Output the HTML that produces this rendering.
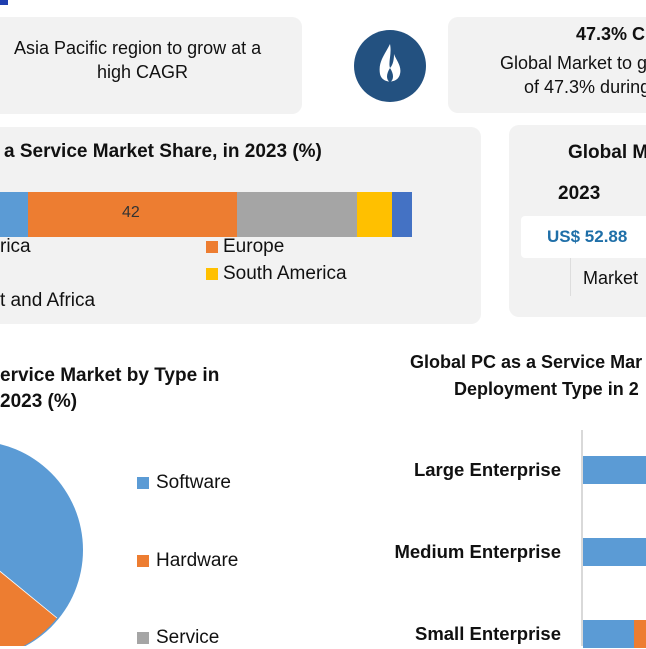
<!DOCTYPE html>
<html><head><meta charset="utf-8"><style>
body{margin:0;width:646px;height:646px;overflow:hidden;background:#fff;font-family:"Liberation Sans",sans-serif;color:#111;position:relative}
.a{position:absolute;white-space:nowrap}
.box{position:absolute;background:#f2f2f2;border-radius:10px}
.b{font-weight:bold}
.t{font-size:18px}
.sq{position:absolute;width:12px;height:12px}
</style></head><body>
<div class="a" style="left:0;top:0;width:8px;height:5px;background:#1f3fb0"></div>
<div class="box" style="left:-20px;top:17px;width:322px;height:97px"></div>
<div class="a t" style="left:14px;top:38px">Asia Pacific region to grow at a</div>
<div class="a t" style="left:97px;top:62px">high CAGR</div>
<svg class="a" style="left:344px;top:30px" width="92" height="74"><circle cx="46" cy="36" r="36" fill="#235180"/>
<path d="M46 14 C40 26 34 32 36 44 C38 54 54 54 56 44 C58 36 52 30 50 24 C50 32 48 36 46 38 C44 32 48 24 46 14Z" fill="#fff"/><path d="M46 38 C42 44 42 50 46 52 C50 50 50 44 46 38Z" fill="#235180"/></svg>
<div class="box" style="left:448px;top:17px;width:220px;height:96px"></div>
<div class="a t b" style="left:576px;top:24px">47.3% C</div>
<div class="a t" style="left:500px;top:53px">Global Market to g</div>
<div class="a t" style="left:524px;top:77px">of 47.3% during</div>
<div class="box" style="left:-20px;top:127px;width:501px;height:197px"></div>
<div class="a b" style="left:4px;top:141px;font-size:19px">a Service Market Share, in 2023 (%)</div>
<div class="a" style="left:0;top:192px;width:28px;height:45px;background:#5b9bd5"></div>
<div class="a" style="left:28px;top:192px;width:209px;height:45px;background:#ed7d31"></div>
<div class="a" style="left:237px;top:192px;width:120px;height:45px;background:#a5a5a5"></div>
<div class="a" style="left:357px;top:192px;width:35px;height:45px;background:#ffc000"></div>
<div class="a" style="left:392px;top:192px;width:20px;height:45px;background:#4472c4"></div>
<div class="a" style="left:122px;top:204px;font-size:16px;color:#333">42</div>
<div class="a" style="left:0;top:236px;font-size:19px">rica</div>
<div class="sq" style="left:206px;top:241px;background:#ed7d31"></div>
<div class="a" style="left:223px;top:236px;font-size:19px">Europe</div>
<div class="sq" style="left:206px;top:268px;background:#ffc000"></div>
<div class="a" style="left:223px;top:263px;font-size:19px">South America</div>
<div class="a" style="left:0;top:290px;font-size:19px">t and Africa</div>
<div class="box" style="left:509px;top:125px;width:160px;height:192px"></div>
<div class="a b" style="left:568px;top:142px;font-size:19px">Global M</div>
<div class="a b" style="left:558px;top:183px;font-size:19px">2023</div>
<div class="a" style="left:521px;top:216px;width:130px;height:42px;background:#fff;border-radius:4px"></div>
<div class="a b" style="left:547px;top:227px;font-size:17px;color:#1f6fa8">US$ 52.88</div>
<div class="a" style="left:570px;top:258px;width:1px;height:38px;background:#ddd"></div>
<div class="a" style="left:583px;top:268px;font-size:18px">Market</div>
<div class="a b" style="left:0;top:365px;font-size:19px">ervice Market by Type in</div>
<div class="a b" style="left:0;top:391px;font-size:19px">2023 (%)</div>
<svg class="a" style="left:0;top:430px" width="120" height="216">
<circle cx="-26" cy="120" r="109" fill="#5b9bd5"/>
<path d="M-26 120 L57 188 A109 109 0 0 1 -26 229 Z" fill="#ed7d31"/>
<line x1="-26" y1="120" x2="57" y2="188" stroke="#fff" stroke-width="0.8"/></svg>
<div class="sq" style="left:137px;top:477px;background:#5b9bd5"></div>
<div class="a" style="left:156px;top:472px;font-size:19px">Software</div>
<div class="sq" style="left:137px;top:555px;background:#ed7d31"></div>
<div class="a" style="left:156px;top:550px;font-size:19px">Hardware</div>
<div class="sq" style="left:137px;top:632px;background:#a5a5a5"></div>
<div class="a" style="left:156px;top:627px;font-size:19px">Service</div>
<div class="a b" style="left:410px;top:352px;font-size:18px">Global PC as a Service Mar</div>
<div class="a b" style="left:454px;top:379px;font-size:18px">Deployment Type in 2</div>
<div class="a" style="left:581px;top:430px;width:2px;height:216px;background:#d9d9d9"></div>
<div class="a" style="left:583px;top:456px;width:70px;height:28px;background:#5b9bd5"></div>
<div class="a" style="left:583px;top:538px;width:70px;height:28px;background:#5b9bd5"></div>
<div class="a" style="left:583px;top:620px;width:51px;height:28px;background:#5b9bd5"></div>
<div class="a" style="left:634px;top:620px;width:20px;height:28px;background:#ed7d31"></div>
<div class="a b" style="right:85px;top:459px;font-size:18.5px">Large Enterprise</div>
<div class="a b" style="right:85px;top:541px;font-size:18.5px">Medium Enterprise</div>
<div class="a b" style="right:85px;top:623px;font-size:18.5px">Small Enterprise</div>
</body></html>
